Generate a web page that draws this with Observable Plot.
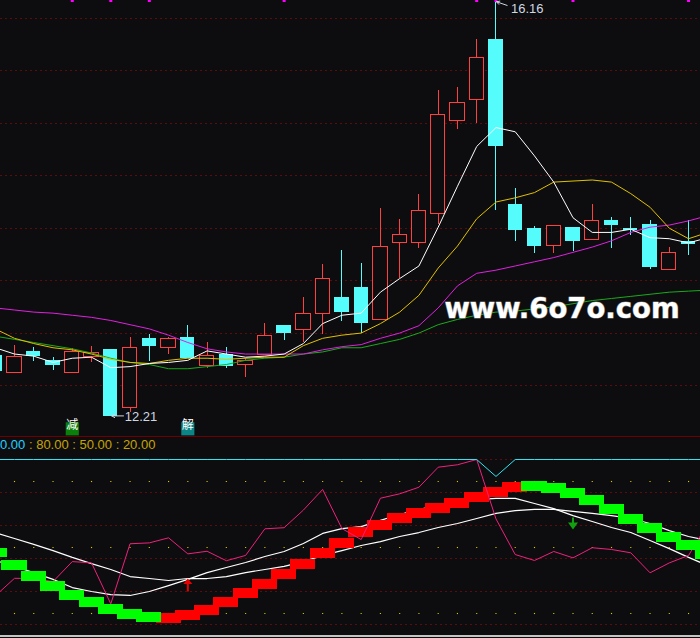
<!DOCTYPE html>
<html>
<head>
<meta charset="utf-8">
<script src="https://cdn.jsdelivr.net/npm/d3@7"></script>
<script src="https://cdn.jsdelivr.net/npm/@observablehq/plot@0.6"></script>
<style>
  body { margin: 0; background: #0d0d10; }
  #chart { position: relative; width: 700px; height: 638px; overflow: hidden; background: #0d0d10; }
  #chart svg { position: absolute; left: 0; display: block; }
  #sep { position: absolute; left: 0; top: 436px; width: 700px; height: 1px; background: #700000; z-index: 2; }
  #floor { position: absolute; left: 0; top: 635px; width: 700px; height: 2px; background: #c4c4c4; z-index: 2; }
  #legend { position: absolute; left: 0; top: 437px; font: 13px "Liberation Sans", Arial, sans-serif; line-height: 15px; white-space: pre; z-index: 2; }
</style>
</head>
<body>
<div id="chart">
  <div id="sep"></div>
  <div id="legend"></div>
  <div id="floor"></div>
</div>
<script>
// candles, left to right (first one is cut by the left edge)
let open  = [12.78, 12.62, 12.82, 12.73, 12.62, 12.77, 12.84, 12.29, 12.94, 12.86, 12.95, 12.69, 12.79, 12.70, 12.79, 13.07, 13.03, 13.18, 13.33, 13.43, 13.12, 13.86, 13.86, 14.14, 15.02, 15.22, 15.80, 14.22, 13.99, 13.83, 14.00, 13.89, 14.07, 13.99, 14.03, 13.60, 13.87];
let high  = [12.81, 12.88, 12.86, 12.77, 12.85, 12.87, 12.84, 12.96, 12.99, 12.96, 13.07, 12.91, 12.86, 12.76, 13.09, 13.07, 13.34, 13.65, 13.79, 13.66, 14.19, 14.08, 14.32, 15.31, 15.34, 15.80, 16.16, 14.38, 14.02, 14.02, 14.00, 14.23, 14.10, 14.10, 14.07, 13.82, 14.07];
let low   = [12.62, 12.62, 12.73, 12.64, 12.62, 12.72, 12.21, 12.24, 12.73, 12.80, 12.76, 12.66, 12.66, 12.58, 12.79, 12.93, 12.91, 12.99, 13.11, 13.00, 13.12, 13.52, 13.81, 14.04, 14.94, 15.00, 14.17, 13.87, 13.76, 13.76, 13.78, 13.89, 13.81, 13.93, 13.61, 13.60, 13.74];
let close = [12.64, 12.77, 12.78, 12.70, 12.82, 12.81, 12.21, 12.86, 12.88, 12.94, 12.76, 12.78, 12.69, 12.73, 12.97, 13.00, 13.18, 13.52, 13.20, 13.10, 13.82, 13.94, 14.16, 15.08, 15.19, 15.62, 14.78, 13.98, 13.83, 14.02, 13.88, 14.07, 14.03, 13.98, 13.63, 13.76, 13.85];

// moving averages (last point belongs to the next, unseen bar)
let ma5  = [12.86, 12.80, 12.78, 12.72, 12.76, 12.77, 12.67, 12.68, 12.71, 12.72, 12.74, 12.83, 12.80, 12.77, 12.78, 12.80, 12.90, 13.09, 13.17, 13.19, 13.39, 13.52, 13.64, 14.01, 14.40, 14.78, 14.96, 14.92, 14.69, 14.44, 14.10, 13.96, 13.96, 13.99, 13.91, 13.90, 13.86, 13.91];
let ma10 = [13.04, 12.95, 12.90, 12.86, 12.84, 12.80, 12.75, 12.72, 12.71, 12.74, 12.76, 12.76, 12.75, 12.76, 12.77, 12.77, 12.88, 12.95, 12.98, 13.00, 13.09, 13.20, 13.36, 13.62, 13.83, 14.09, 14.25, 14.29, 14.34, 14.44, 14.45, 14.46, 14.44, 14.33, 14.20, 14.00, 13.90, 13.96];
let ma20 = [13.24, 13.22, 13.20, 13.19, 13.17, 13.15, 13.12, 13.08, 13.04, 12.98, 12.91, 12.85, 12.82, 12.80, 12.80, 12.80, 12.80, 12.84, 12.87, 12.89, 12.95, 13.00, 13.07, 13.24, 13.45, 13.57, 13.60, 13.64, 13.68, 13.72, 13.77, 13.82, 13.88, 13.96, 14.01, 14.03, 14.07, 14.12];
let ma60 = [12.97, 12.94, 12.91, 12.88, 12.85, 12.81, 12.76, 12.72, 12.70, 12.66, 12.66, 12.68, 12.70, 12.74, 12.76, 12.77, 12.80, 12.82, 12.86, 12.86, 12.90, 12.94, 13.00, 13.08, 13.13, 13.17, 13.20, 13.21, 13.23, 13.25, 13.28, 13.31, 13.33, 13.35, 13.37, 13.39, 13.40, 13.41];

let priceGrid = [16.0, 15.5, 15.0, 14.5, 14.0, 13.5, 13.0, 12.5];
let topMarks = [4, 6, 8, 15, 25, 26, 30, 36];
let signals = [
  {i: 4, text: "减", color: "#0a800a"},
  {i: 10, text: "解", color: "#0b8585"}
];

// indicator panel
let fast  = [44.1, 41.4, 38.6, 35.5, 31.8, 30.0, 28.6, 28.2, 30.0, 32.7, 35.5, 38.6, 40.9, 43.2, 45.9, 48.2, 51.8, 56.4, 58.6, 59.5, 62.3, 65.0, 67.3, 69.1, 70.9, 71.8, 72.3, 72.3, 70.0, 67.7, 64.5, 61.8, 59.1, 56.8, 53.2, 49.5, 45.5, 41.8];
let slow  = [56.8, 54.1, 51.4, 48.6, 45.5, 42.7, 40.0, 36.8, 35.9, 35.0, 35.9, 35.9, 36.8, 38.6, 40.0, 41.4, 43.6, 46.4, 48.6, 50.9, 52.7, 55.0, 56.8, 59.1, 60.9, 63.2, 65.5, 66.8, 67.3, 67.3, 66.4, 65.5, 64.5, 63.2, 60.9, 57.7, 55.0, 53.2];
let rsi   = [28.0, 36.0, 35.9, 34.5, 43.6, 43.0, 24.4, 51.7, 52.1, 54.4, 47.1, 48.3, 44.0, 46.4, 58.5, 59.0, 67.0, 76.4, 58.6, 53.6, 72.4, 74.4, 77.4, 86.5, 87.6, 90.0, 63.0, 46.8, 44.1, 48.2, 45.3, 49.9, 49.1, 47.6, 38.5, 43.0, 46.4, 60.9];
let band  = [47.5, 41.8, 36.8, 32.3, 28.4, 24.8, 22.0, 19.5, 18.2, 17.7, 18.9, 21.4, 24.8, 29.1, 33.2, 37.7, 42.3, 47.3, 51.8, 56.6, 60.0, 63.2, 65.5, 67.7, 70.0, 72.7, 75.0, 77.3, 77.7, 76.8, 74.5, 71.4, 67.3, 62.7, 58.6, 54.5, 50.9, 47.0];
let bandTrend = "DDDDDDDDDUUUUUUUUUUUUUUUUUUUDDDDDDDDDD";
let cap   = [90, 90, 90, 90, 90, 90, 90, 90, 90, 90, 90, 90, 90, 90, 90, 90, 90, 90, 90, 90, 90, 90, 90, 90, 90, 90, 82.3, 90, 90, 90, 90, 90, 90, 90, 90, 90, 90, 90];
let levels = [80, 50, 20];
let lowerGrid = [90, 75, 60, 45, 30, 15];
let crossUp = [{i: 10, v: 35.9}];
let crossDown = [{i: 30, v: 58.2}];

const bg = "#0d0d10";
const red = "#ff4040", cyan = "#54fcfc";
const xDomain = [0.273, 36.62];
const half = 0.37;

const rows = open.map((o, i) => ({i, open: o, high: high[i], low: low[i], close: close[i]}));
const ups = rows.filter(d => d.close >= d.open);
const downs = rows.filter(d => d.close < d.open);
const series = arr => arr.map((v, i) => ({i, v}));
const hi = d3.greatest(rows, d => d.high);
const lo = d3.least(rows, d => d.low);

const chart = document.getElementById("chart");
const crisp = {shapeRendering: "crispEdges"};

// main price panel
let mainPlot = Plot.plot({
  width: 700,
  height: 437,
  margin: 0,
  style: {background: "transparent", overflow: "hidden"},
  x: {domain: xDomain, axis: null},
  y: {domain: [12.004, 16.172], axis: null},
  marks: [
    Plot.ruleY(priceGrid, {stroke: "#5c0c0c", strokeDasharray: "2,3", ...crisp}),
    Plot.ruleX(downs, {x: "i", y1: "low", y2: "high", stroke: cyan, ...crisp}),
    Plot.ruleX(ups, {x: "i", y1: "close", y2: "high", stroke: red, ...crisp}),
    Plot.ruleX(ups, {x: "i", y1: "low", y2: "open", stroke: red, ...crisp}),
    Plot.rect(downs, {x1: d => d.i - half, x2: d => d.i + half, y1: "open", y2: "close", fill: cyan, insetTop: -0.5, insetBottom: -0.5, ...crisp}),
    Plot.rect(ups, {x1: d => d.i - half, x2: d => d.i + half, y1: "open", y2: "close", fill: bg, stroke: red, ...crisp}),
    Plot.line(series(ma60), {x: "i", y: "v", stroke: "#1aaa1a", strokeWidth: 1}),
    Plot.line(series(ma20), {x: "i", y: "v", stroke: "#e020e0", strokeWidth: 1}),
    Plot.line(series(ma10), {x: "i", y: "v", stroke: "#e0c000", strokeWidth: 1}),
    Plot.line(series(ma5), {x: "i", y: "v", stroke: "#ffffff", strokeWidth: 1}),
    Plot.dot(topMarks, {x: d => d, frameAnchor: "top", symbol: "square", r: 1.7, fill: "#ff00ff"}),
    // high / low labels
    Plot.arrow([hi], {x1: d => d.i + 0.58, y1: d => d.high - 0.035, x2: d => d.i + 0.03, y2: "high", stroke: "#cfd8e2", strokeWidth: 1, headLength: 5}),
    Plot.text([hi], {x: "i", y: "high", text: d => d.high.toFixed(2), dx: 15, dy: 7.5, textAnchor: "start", fill: "#cfd8e2", fontSize: 13, fontFamily: "Liberation Sans"}),
    Plot.arrow([lo], {x1: d => d.i + 0.66, y1: "low", x2: d => d.i + 0.05, y2: "low", stroke: "#cfd8e2", strokeWidth: 1, headLength: 5}),
    Plot.text([lo], {x: "i", y: "low", text: d => d.low.toFixed(2), dx: 14, dy: 1, textAnchor: "start", fill: "#cfd8e2", fontSize: 13, fontFamily: "Liberation Sans"}),
    // signal boxes at the bottom
    Plot.dot(signals, {x: "i", frameAnchor: "bottom", dy: -8.7, symbol: "square", r: 7.4, fill: "color"}),
    Plot.text(signals, {x: "i", frameAnchor: "bottom", dy: -8.5, text: "text", fill: "white", fontSize: 12, fontFamily: "Noto Sans CJK SC"}),
    // watermark
    Plot.text(["www.6o7o.com"], {text: d => d, frameAnchor: "top-left", dx: 561.5, dy: 298, textAnchor: "middle", fill: "#ffffff", stroke: "#777777", strokeWidth: 1.2, paintOrder: "stroke", fontSize: 27.5, fontWeight: "bold", fontFamily: "DejaVu Sans"})
  ]
});
mainPlot.style.top = "0px";
chart.appendChild(mainPlot);

// indicator panel
const upArrow = {draw(c) {
  c.moveTo(0, 0); c.lineTo(4.5, 5.5); c.lineTo(1, 5.5); c.lineTo(1, 13);
  c.lineTo(-1, 13); c.lineTo(-1, 5.5); c.lineTo(-4.5, 5.5); c.closePath();
}};
const downArrow = {draw(c) {
  c.moveTo(0, 0); c.lineTo(5, -7); c.lineTo(1, -7); c.lineTo(1, -12);
  c.lineTo(-1, -12); c.lineTo(-1, -7); c.lineTo(-5, -7); c.closePath();
}};

const bandRows = band.map((v, i) => ({i, v, up: bandTrend[i] === "U"}));
const levelDots = levels.flatMap(v => rows.map(d => ({i: d.i, v})));

let lowerPlot = Plot.plot({
  width: 700,
  height: 201,
  margin: 0,
  style: {background: "transparent", overflow: "hidden"},
  x: {domain: xDomain, axis: null},
  y: {domain: [8.64, 100], axis: null},
  marks: [
    Plot.ruleY(lowerGrid, {stroke: "#5c0c0c", strokeDasharray: "2,3", ...crisp}),
    Plot.dot(levelDots, {x: "i", y: "v", symbol: "square", r: 0.65, fill: "#d8c400"}),
    Plot.line(series(slow), {x: "i", y: "v", stroke: "#ffffff", strokeWidth: 1.2}),
    Plot.line(series(fast), {x: "i", y: "v", stroke: "#ffffff", strokeWidth: 1.2}),
    Plot.rect(bandRows.filter(d => d.up), {x1: d => d.i - 0.65, x2: d => d.i + 0.65, y1: d => d.v - 2.27, y2: d => d.v + 2.27, fill: "#ff0000", ...crisp}),
    Plot.line(series(rsi), {x: "i", y: "v", stroke: "#f0207a", strokeWidth: 1}),
    Plot.rect(bandRows.filter(d => !d.up), {x1: d => d.i - 0.65, x2: d => d.i + 0.65, y1: d => d.v - 2.27, y2: d => d.v + 2.27, fill: "#00ff00", ...crisp}),
    Plot.line(series(cap), {x: "i", y: "v", stroke: "#2ee6f2", strokeWidth: 1}),
    Plot.dot(crossUp, {x: "i", y: "v", symbol: upArrow, r: 5, fill: "#e80000"}),
    Plot.dot(crossDown, {x: "i", y: "v", symbol: downArrow, r: 5, fill: "#10a010"})
  ]
});
lowerPlot.style.top = "437px";
chart.appendChild(lowerPlot);

// indicator legend line
document.getElementById("legend").innerHTML =
  '<span style="color:#22d2ff">0.00</span><span style="color:#c8a400">' +
  levels.map(v => " : " + v.toFixed(2)).join("") + '</span>';
</script>
</body>
</html>
